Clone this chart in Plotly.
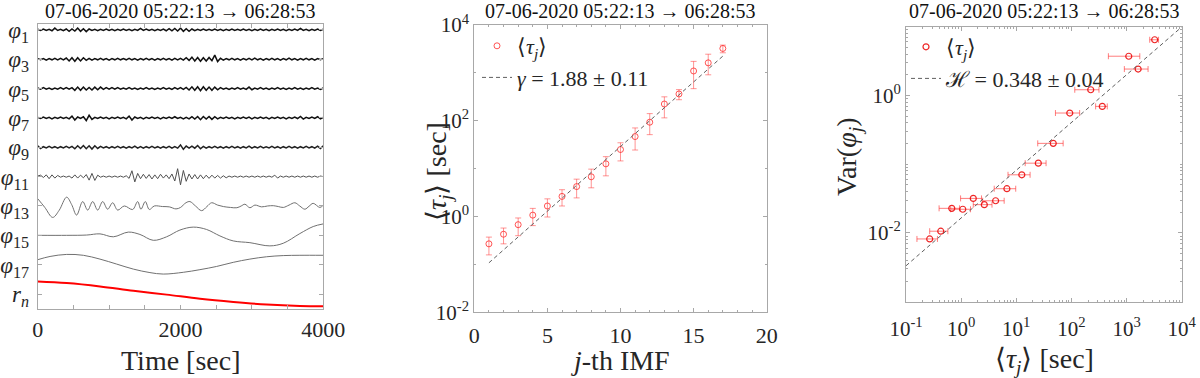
import plotly.graph_objects as go

# ------------------------------------------------------------------ data

TITLE = "07-06-2020 05:22:13 \u2192 06:28:53"

# left panel: IMFs stacked, one level each (bottom r_n -> top phi_1)
imf_names = ["<i>r</i><sub><i>n</i></sub>", "<i>\u03c6</i><sub>17</sub>", "<i>\u03c6</i><sub>15</sub>",
             "<i>\u03c6</i><sub>13</sub>", "<i>\u03c6</i><sub>11</sub>", "<i>\u03c6</i><sub>9</sub>",
             "<i>\u03c6</i><sub>7</sub>", "<i>\u03c6</i><sub>5</sub>", "<i>\u03c6</i><sub>3</sub>",
             "<i>\u03c6</i><sub>1</sub>"]

t_fast = list(range(0, 4001, 40))

phi1 = [0.02, -0.02, 0.03, -0.02, 0.02, -0.03, 0.06, -0.02, 0.02, -0.03,
        0.03, -0.05, 0.03, -0.04, 0.06, -0.05, 0.04, -0.06, 0.03, -0.02,
        0.02, -0.03, 0.02, -0.02, 0.03, -0.02, 0.02, -0.03, 0.02, -0.02,
        0.03, -0.02, 0.02, -0.03, 0.02, -0.02, 0.05, -0.02, 0.03, -0.02,
        0.02, -0.03, 0.02, -0.02, 0.03, -0.03, 0.04, -0.03, 0.05, -0.04,
        0.06, -0.05, 0.04, -0.05, 0.03, -0.03, 0.02, -0.02, 0.03, -0.02,
        0.02, -0.02, 0.03, -0.02, 0.02, -0.03, 0.02, -0.02, 0.03, -0.02,
        0.02, -0.02, 0.03, -0.02, 0.02, -0.03, 0.02, -0.02, 0.03, -0.02,
        0.02, -0.03, 0.02, -0.02, 0.03, -0.02, 0.02, -0.03, 0.02, -0.02,
        0.03, -0.02, 0.05, -0.02, 0.02, -0.03, 0.02, -0.02, 0.03, -0.02,
        0.02]

phi3 = [0.02, -0.02, 0.02, -0.03, 0.02, -0.02, 0.03, -0.02, 0.03, -0.02,
        0.04, -0.06, 0.05, -0.07, 0.05, -0.06, 0.05, -0.04, 0.03, -0.03,
        0.02, -0.02, 0.03, -0.02, 0.02, -0.03, 0.02, -0.02, 0.03, -0.02,
        0.02, -0.02, 0.03, -0.02, 0.02, -0.03, 0.02, -0.02, 0.03, -0.02,
        0.02, -0.03, 0.02, -0.02, 0.03, -0.02, 0.02, -0.03, 0.03, -0.02,
        0.03, -0.03, 0.05, -0.04, 0.07, -0.06, 0.06, -0.07, 0.05, -0.06,
        0.06, -0.05, 0.14, -0.08, 0.03, -0.03, 0.02, -0.02, 0.03, -0.02,
        0.02, -0.03, 0.02, -0.02, 0.03, -0.02, 0.04, -0.02, 0.02, -0.03,
        0.02, -0.02, 0.03, -0.02, 0.02, -0.03, 0.02, -0.02, 0.04, -0.02,
        0.02, -0.03, 0.02, -0.02, 0.03, -0.02, 0.02, -0.03, 0.02, -0.02,
        0.02]

phi5 = [0.02, -0.02, 0.03, -0.02, 0.02, -0.03, 0.02, -0.02, 0.03, -0.02,
        0.03, -0.02, 0.03, -0.06, 0.05, -0.06, 0.05, -0.05, 0.04, -0.05,
        0.05, -0.04, 0.05, -0.03, 0.03, -0.02, 0.03, -0.02, 0.03, -0.02,
        0.02, -0.02, 0.03, -0.02, 0.02, -0.03, 0.02, -0.02, 0.03, -0.02,
        0.02, -0.03, 0.02, -0.02, 0.03, -0.02, 0.02, -0.03, 0.03, -0.02,
        0.03, -0.03, 0.04, -0.05, 0.06, -0.06, 0.06, -0.07, 0.06, -0.06,
        0.05, -0.06, 0.05, -0.04, 0.03, -0.02, 0.02, -0.03, 0.02, -0.02,
        0.03, -0.02, 0.02, -0.03, 0.05, -0.04, 0.02, -0.02, 0.03, -0.02,
        0.02, -0.03, 0.02, -0.02, 0.03, -0.02, 0.02, -0.03, 0.02, -0.02,
        0.03, -0.02, 0.02, -0.03, 0.02, -0.02, 0.03, -0.02, 0.02, -0.03,
        0.02]

phi7 = [0.02, -0.02, 0.03, -0.02, 0.02, -0.03, 0.02, -0.02, 0.03, -0.02,
        0.02, -0.03, 0.06, -0.07, 0.03, -0.02, 0.04, -0.09, 0.09, -0.05,
        0.02, -0.02, 0.03, -0.02, 0.02, -0.03, 0.02, -0.02, 0.03, -0.02,
        0.02, -0.03, 0.06, -0.07, 0.03, -0.02, 0.02, -0.03, 0.02, -0.02,
        0.03, -0.02, 0.02, -0.03, 0.02, -0.02, 0.03, -0.02, 0.04, -0.02,
        0.02, -0.03, 0.02, -0.03, 0.04, -0.04, 0.05, -0.06, 0.05, -0.04,
        0.05, -0.05, 0.04, -0.03, 0.02, -0.02, 0.03, -0.02, 0.02, -0.03,
        0.02, -0.02, 0.03, -0.02, 0.03, -0.03, 0.02, -0.02, 0.03, -0.02,
        0.02, -0.03, 0.02, -0.02, 0.03, -0.02, 0.02, -0.03, 0.02, -0.02,
        0.03, -0.02, 0.05, -0.04, 0.02, -0.02, 0.03, -0.02, 0.04, -0.03,
        0.02]

phi9 = [0.05, -0.04, 0.02, -0.02, 0.03, -0.02, 0.02, -0.03, 0.02, -0.02,
        0.03, -0.02, 0.03, -0.05, 0.05, -0.04, 0.06, -0.05, 0.05, -0.06,
        0.05, -0.04, 0.03, -0.02, 0.02, -0.03, 0.02, -0.02, 0.03, -0.02,
        0.02, -0.03, 0.02, -0.02, 0.04, -0.03, 0.02, -0.03, 0.02, -0.02,
        0.03, -0.02, 0.02, -0.03, 0.02, -0.02, 0.03, -0.03, 0.02, -0.03,
        0.08, -0.07, 0.04, -0.03, 0.04, -0.03, 0.06, -0.05, 0.03, -0.03,
        0.02, -0.02, 0.03, -0.02, 0.02, -0.03, 0.02, -0.02, 0.03, -0.02,
        0.02, -0.03, 0.02, -0.02, 0.04, -0.03, 0.02, -0.02, 0.03, -0.02,
        0.02, -0.02, 0.03, -0.02, 0.02, -0.03, 0.02, -0.02, 0.03, -0.02,
        0.02, -0.03, 0.02, -0.02, 0.03, -0.02, 0.02, -0.03, 0.04, -0.04,
        0.05]

phi11 = [0.02, 0.05, -0.03, 0.06, -0.07, 0.06, -0.05, 0.04, -0.02, 0.02,
         -0.02, 0.02, -0.05, 0.06, -0.05, 0.05, -0.04, 0.07, -0.12, 0.11,
         -0.13, 0.05, -0.02, 0.02, -0.02, 0.02, -0.02, 0.02, -0.02, 0.02,
         -0.02, 0.03, -0.06, 0.20, -0.18, 0.11, -0.07, 0.08, -0.06, 0.07,
         -0.08, 0.06, -0.07, 0.08, -0.05, 0.06, -0.07, 0.09, -0.15, 0.27,
         -0.28, 0.21, -0.16, 0.09, -0.08, 0.07, -0.08, 0.06, -0.07, 0.05,
         -0.06, 0.05, -0.05, 0.04, -0.05, 0.03, -0.04, 0.02, -0.02, 0.02,
         -0.02, 0.02, -0.02, 0.02, -0.02, 0.02, -0.02, 0.02, -0.02, 0.02,
         -0.02, 0.02, -0.02, 0.05, -0.05, 0.02, -0.02, 0.02, -0.02, 0.02,
         -0.02, 0.02, -0.02, 0.02, -0.02, 0.02, -0.02, 0.02, -0.02, 0.02,
         0.0]

t_phi13 = [0, 100, 210, 300, 405, 475, 545, 630, 700, 770, 840, 910, 980, 1050,
           1120, 1213, 1330, 1400, 1446, 1507, 1563, 1633, 1750, 1843, 1937, 2000,
           2076, 2132, 2210, 2296, 2370, 2436, 2520, 2600, 2700, 2790, 2850, 2902,
           2972, 3042, 3136, 3220, 3300, 3370, 3440, 3520, 3602, 3670, 3742, 3800,
           3858, 3952, 4000]
phi13 = [0.25, -0.05, -0.39, -0.15, 0.30, 0.05, -0.31, 0.15, -0.14, 0.15, -0.14,
         0.15, -0.11, 0.11, -0.14, 0.0, -0.12, 0.15, -0.11, 0.15, -0.12, 0.0, -0.02,
         -0.03, -0.10, -0.05, 0.11, 0.15, 0.0, -0.16, -0.02, 0.11, 0.03, -0.02, -0.05,
         -0.06, 0.0, 0.06, -0.06, 0.03, -0.03, 0.0, 0.01, -0.02, -0.05, 0.03, 0.11,
         0.0, -0.11, -0.01, 0.09, -0.05, 0.03]

t_phi15 = [0, 406, 686, 872, 1059, 1269, 1432, 1619, 1805, 1992, 2179, 2365, 2552,
           2739, 2972, 3252, 3439, 3672, 3859, 4000]
phi15 = [0.0, 0.0, 0.01, 0.05, -0.05, 0.11, 0.03, -0.17, -0.05, 0.18, 0.28, 0.20,
         -0.02, -0.19, -0.25, -0.36, -0.27, 0.06, 0.30, 0.39]

t_phi17 = [0, 173, 406, 639, 872, 1106, 1339, 1572, 1759, 2039, 2272, 2506, 2739,
           2972, 3206, 3439, 3672, 4000]
phi17 = [0.17, 0.28, 0.35, 0.32, 0.19, 0.02, -0.15, -0.27, -0.32, -0.26, -0.17,
         -0.06, 0.08, 0.19, 0.27, 0.31, 0.32, 0.32]

t_rn = [0, 406, 873, 1340, 1806, 2273, 2740, 3206, 3673, 4000]
r_n = [0.43, 0.375, 0.26, 0.11, -0.02, -0.16, -0.27, -0.36, -0.41, -0.42]

time_ticks = [0, 500, 1000, 1500, 2000, 2500, 3000, 3500, 4000]
time_ticklabels = ["0", "", "", "", "2000", "", "", "", "4000"]

# middle / right panels: mean period and variance per IMF
j_imf = list(range(1, 18))
tau = [0.269, 0.427, 0.676, 1.07, 1.66, 2.63, 4.22, 6.76, 12.6, 25.1, 46.8, 93.3,
       224, 363, 1096, 1622, 3236]
tau_hi = [0.372, 0.575, 0.933, 1.48, 2.34, 3.63, 6.03, 9.77, 17.8, 34.7, 70.8, 141,
          316, 447, 1738, 2455, 3802]
tau_lo = [0.158, 0.269, 0.398, 0.646, 0.977, 1.66, 2.45, 3.98, 7.08, 14.5, 24.5, 51.3,
          115, 275, 468, 912, 2630]
var_phi = [0.00818, 0.0106, 0.0228, 0.0221, 0.0318, 0.0258, 0.0294, 0.0440, 0.0701,
           0.1035, 0.201, 0.555, 1.21, 0.693, 3.72, 2.42, 6.46]

fit_gamma_j = [1, 17]
fit_gamma_tau = [0.108, 2240]
fit_h_tau = [0.1, 10000]
fit_h_var = [0.00333, 9.9]

# ------------------------------------------------------------- figure

W, H = 1200, 378
FONT = "Liberation Serif"
AX = "#a8a8a8"
TXT = "#262626"


def px_x(p):
    return p / W


def px_y(p):
    return 1 - p / H


fig = go.Figure()

# --- left panel: stacked IMFs
fast = [(phi1, 9, "#111111"), (phi3, 8, "#111111"), (phi5, 7, "#111111"),
        (phi7, 6, "#111111"), (phi9, 5, "#222222"), (phi11, 4, "#505050")]
for vals, lvl, col in fast:
    fig.add_trace(go.Scatter(x=t_fast, y=[lvl + v for v in vals], mode="lines",
                             line=dict(color=col, width=1.5 if lvl > 4 else 1),
                             showlegend=False, xaxis="x", yaxis="y"))

slow = [(t_phi13, phi13, 3), (t_phi15, phi15, 2), (t_phi17, phi17, 1)]
for tt, vals, lvl in slow:
    fig.add_trace(go.Scatter(x=tt, y=[lvl + v for v in vals], mode="lines",
                             line=dict(color="#707070", width=1, shape="spline"),
                             showlegend=False, xaxis="x", yaxis="y"))

fig.add_trace(go.Scatter(x=t_rn, y=r_n, mode="lines",
                         line=dict(color="#ff0000", width=2, shape="spline"),
                         showlegend=False, xaxis="x", yaxis="y"))

# --- middle panel: <tau_j> vs j
fig.add_trace(go.Scatter(
    x=j_imf, y=tau, mode="markers", name="\u27e8<i>\u03c4</i><sub><i>j</i></sub>\u27e9",
    marker=dict(symbol="circle-open", size=6, color="rgba(255,30,30,0.75)",
                line=dict(width=1)),
    error_y=dict(type="data", symmetric=False,
                 array=[h - v for h, v in zip(tau_hi, tau)],
                 arrayminus=[v - l for v, l in zip(tau, tau_lo)],
                 color="rgba(255,60,60,0.55)", thickness=1, width=3),
    xaxis="x2", yaxis="y2", legend="legend"))
fig.add_trace(go.Scatter(
    x=fit_gamma_j, y=fit_gamma_tau, mode="lines",
    name="<i>\u03b3</i> = 1.88 \u00b1 0.11",
    line=dict(color="#606060", width=1, dash="4px,3px"),
    xaxis="x2", yaxis="y2", legend="legend"))

# --- right panel: Var(phi_j) vs <tau_j>
fig.add_trace(go.Scatter(
    x=tau, y=var_phi, mode="markers", name="\u27e8<i>\u03c4</i><sub><i>j</i></sub>\u27e9",
    marker=dict(symbol="circle-open", size=6, color="rgba(235,0,0,0.85)",
                line=dict(width=1.2)),
    error_x=dict(type="data", symmetric=False,
                 array=[h - v for h, v in zip(tau_hi, tau)],
                 arrayminus=[v - l for v, l in zip(tau, tau_lo)],
                 color="rgba(255,40,40,0.6)", thickness=1, width=3),
    xaxis="x3", yaxis="y3", legend="legend2"))
fig.add_trace(go.Scatter(
    x=fit_h_tau, y=fit_h_var, mode="lines",
    name="\u210b = 0.348 \u00b1 0.04",
    line=dict(color="#606060", width=1, dash="4px,3px"),
    xaxis="x3", yaxis="y3", legend="legend2"))

# ------------------------------------------------------------- axes

common = dict(showline=True, linecolor=AX, linewidth=1, mirror="ticks",
              ticks="inside", ticklen=4, tickcolor=AX, showgrid=False,
              zeroline=False, automargin=False,
              tickfont=dict(family=FONT, size=22, color=TXT))
logfont = dict(family=FONT, size=21, color=TXT)

decade_minor = lambda lo, hi: [m * 10 ** e for e in range(lo, hi) for m in range(2, 10)]

fig.update_layout(
    xaxis=dict(domain=[px_x(37.7), px_x(323.3)], anchor="y", range=[0, 4000],
               tickvals=time_ticks, ticktext=time_ticklabels, ticklabelstandoff=1,
               **common),
    yaxis=dict(domain=[px_y(309), px_y(24)], anchor="x", range=[-0.51, 9.2],
               tickvals=list(range(10)), ticktext=imf_names, ticklabelstandoff=3,
               **{**common, "tickfont": dict(family=FONT, size=23, color=TXT)}),
    xaxis2=dict(domain=[px_x(474.3), px_x(766.7)], anchor="y2", range=[0, 20],
                tickvals=[0, 5, 10, 15, 20], ticklabelstandoff=3,
                minor=dict(ticks="inside", ticklen=2, tickcolor=AX, dtick=1),
                **common),
    yaxis2=dict(domain=[px_y(312.3), px_y(25)], anchor="x2", type="log", range=[-2, 4],
                tickvals=[0.01, 1, 100, 10000],
                ticktext=["10<sup>-2</sup>", "10<sup>0</sup>", "10<sup>2</sup>", "10<sup>4</sup>"],
                minor=dict(ticks="inside", ticklen=2, tickcolor=AX,
                           tickvals=[0.1, 10, 1000]),
                **{**common, "tickfont": logfont}),
    xaxis3=dict(domain=[px_x(906), px_x(1181.7)], anchor="y3", type="log", range=[-1, 4],
                tickvals=[0.1, 1, 10, 100, 1000, 10000],
                ticktext=["10<sup>-1</sup>", "10<sup>0</sup>", "10<sup>1</sup>",
                          "10<sup>2</sup>", "10<sup>3</sup>", "10<sup>4</sup>"],
                ticklabelstandoff=8,
                minor=dict(ticks="inside", ticklen=2, tickcolor=AX,
                           tickvals=decade_minor(-1, 4)),
                **{**common, "tickfont": logfont}),
    yaxis3=dict(domain=[px_y(301.7), px_y(26.7)], anchor="x3", type="log", range=[-3, 1],
                tickvals=[0.01, 1], ticktext=["10<sup>-2</sup>", "10<sup>0</sup>"],
                minor=dict(ticks="inside", ticklen=2, tickcolor=AX,
                           tickvals=[0.001, 0.1, 10] + decade_minor(-3, 1)),
                **{**common, "tickfont": logfont}),
)

legend_style = dict(bgcolor="rgba(0,0,0,0)", font=dict(family=FONT, size=22, color=TXT),
                    tracegroupgap=0, itemwidth=30, xanchor="left", yanchor="top")
fig.update_layout(
    legend=dict(x=px_x(477), y=px_y(25), **legend_style),
    legend2=dict(x=px_x(906), y=px_y(26), **legend_style),
)

# ------------------------------------------------------------- text

ann = []
for cx in (180.5, 620.5, 1044):
    ann.append(dict(text=TITLE, x=px_x(cx), y=px_y(11), xref="paper", yref="paper",
                    xanchor="center", yanchor="middle", showarrow=False,
                    font=dict(family=FONT, size=20, color="#111111")))
xtitles = [("Time [sec]", 180.5), ("<i>j</i>-th IMF", 620.5),
           ("\u27e8<i>\u03c4</i><sub><i>j</i></sub>\u27e9 [sec]", 1044)]
for txt, cx in xtitles:
    ann.append(dict(text=txt, x=px_x(cx), y=px_y(360), xref="paper", yref="paper",
                    xanchor="center", yanchor="middle", showarrow=False,
                    font=dict(family=FONT, size=28, color=TXT)))
ytitles = [("\u27e8<i>\u03c4</i><sub><i>j</i></sub>\u27e9 [sec]", 438, 172),
           ("Var(<i>\u03c6</i><sub><i>j</i></sub>)", 848, 157)]
for txt, cx, cy in ytitles:
    ann.append(dict(text=txt, x=px_x(cx), y=px_y(cy), xref="paper", yref="paper",
                    xanchor="center", yanchor="middle", textangle=-90, showarrow=False,
                    font=dict(family=FONT, size=28, color=TXT)))

fig.update_layout(
    annotations=ann,
    width=W, height=H,
    margin=dict(l=0, r=0, t=0, b=0, autoexpand=False),
    paper_bgcolor="white", plot_bgcolor="white",
    font=dict(family=FONT, color=TXT),
)

# page body has a default 8px margin; drop it so the figure sits at the origin
fig.write_html("out.html", config={"displayModeBar": False},
               post_script="document.body.style.margin='0px';")
